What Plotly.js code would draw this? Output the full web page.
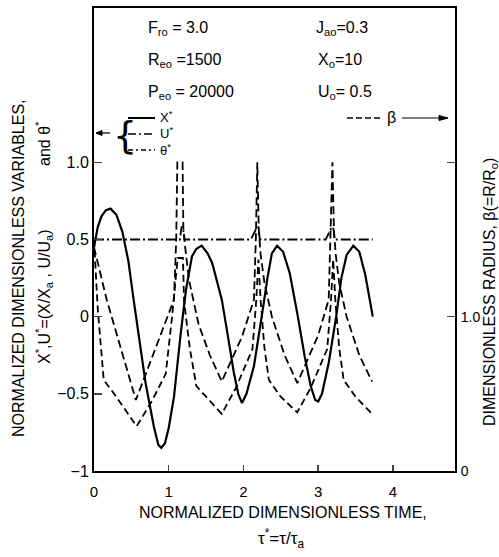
<!DOCTYPE html>
<html><head><meta charset="utf-8">
<script src="https://cdn.plot.ly/plotly-3.0.1.min.js"></script>
<style>body{margin:0;background:#fff}#c{width:499px;height:557px}</style>
</head><body><div id="c"></div>
<script>
// X* (solid)
const tX = [0,0.05,0.1,0.16,0.22,0.3,0.38,0.46,0.53,0.6,0.69,0.8,0.86,0.9,0.95,1.0,1.07,1.16,1.23,1.31,1.37,1.44,1.52,1.58,1.71,1.8,1.87,1.93,1.98,2.04,2.14,2.25,2.32,2.38,2.45,2.53,2.62,2.72,2.82,2.9,2.96,3.0,3.05,3.14,3.24,3.31,3.38,3.47,3.55,3.63,3.73];
const xStar = [0.45,0.58,0.65,0.69,0.70,0.66,0.55,0.36,0.11,-0.13,-0.43,-0.71,-0.83,-0.85,-0.82,-0.72,-0.52,-0.11,0.17,0.39,0.44,0.46,0.41,0.35,0.11,-0.15,-0.36,-0.50,-0.56,-0.50,-0.32,0.02,0.25,0.41,0.46,0.42,0.28,0.02,-0.26,-0.45,-0.54,-0.55,-0.50,-0.30,0.0,0.25,0.40,0.46,0.42,0.27,0.0];
// U* (upper dashed, spikes)
const tU = [0,0.17,0.56,1.07,1.10,1.115,1.185,1.195,1.22,1.27,1.4,1.55,1.71,1.98,2.14,2.165,2.185,2.205,2.23,2.28,2.38,2.55,2.72,3.0,3.14,3.165,3.19,3.21,3.235,3.28,3.38,3.55,3.72];
const uStar = [0.45,0.11,-0.54,0.11,0.5,1.0,1.0,0.58,0.45,0.24,-0.05,-0.25,-0.42,-0.13,0.11,0.5,1.0,0.56,0.4,0.22,0.0,-0.25,-0.43,-0.12,0.11,0.5,1.0,0.56,0.4,0.22,0.0,-0.25,-0.42];
// theta* (dash-dot, near 0.5)
const tTh = [0,0.5,1.0,1.15,1.17,1.19,1.21,1.23,1.6,2.1,2.18,2.2,2.22,2.24,2.7,3.1,3.18,3.2,3.22,3.24,3.73];
const thStar = [0.5,0.5,0.5,0.5,0.58,0.58,0.5,0.5,0.5,0.5,0.58,0.58,0.5,0.5,0.5,0.5,0.58,0.58,0.5,0.5,0.5];
// beta (lower dashed, right axis: beta)
const tB = [0,0.05,0.13,0.3,0.57,0.76,0.96,1.04,1.12,1.19,1.205,1.28,1.37,1.58,1.71,1.9,2.12,2.17,2.2,2.23,2.28,2.34,2.5,2.72,2.9,3.12,3.17,3.2,3.23,3.28,3.34,3.5,3.72];
const beta = [1.5,1.05,0.59,0.48,0.29,0.44,0.63,0.98,1.38,1.38,1.1,0.8,0.55,0.44,0.37,0.54,0.79,1.1,1.37,1.1,0.8,0.59,0.48,0.38,0.54,0.79,1.1,1.37,1.1,0.8,0.59,0.48,0.37];

const xTicks = [0,1,2,3,4];
const yTicks = [-1,-0.5,0,0.5,1];
const yTickText = ['\u22121','\u22120.5','0','0.5','1.0'];
const y2Ticks = [0,1,2];
const y2TickText = ['0','1.0',''];

const F = 'Liberation Sans, Arial, sans-serif';
const traces = [
 {x:tX,y:xStar,mode:'lines',line:{color:'#000',width:2.2},name:'X*'},
 {x:tU,y:uStar,mode:'lines',line:{color:'#000',width:1.8,dash:'8px,4px'},name:'U*'},
 {x:tTh,y:thStar,mode:'lines',line:{color:'#000',width:1.8,dash:'10px,3px,2px,3px'},name:'θ*'},
 {x:tB,y:beta,mode:'lines',yaxis:'y2',line:{color:'#000',width:1.8,dash:'7px,4px'},name:'β'}
];
const L=94,R=455,T=8,B=471,W=499,H=557;
const px=(v)=>(v-L)/(R-L), py=(v)=>(B-v)/(B-T);
const ann = [];
function A(x,y,t,size,o){ann.push(Object.assign({xref:'paper',yref:'paper',x:px(x),y:py(y),text:t,showarrow:false,font:{family:F,size:size,color:'#000'},xanchor:'left',yanchor:'middle'},o||{}));}
A(146,28,'F<sub>ro</sub> = 3.0',16);
A(146,60,'R<sub>eo</sub> =1500',16);
A(146,93,'P<sub>eo</sub> = 20000',16);
A(314,28,'J<sub>ao</sub>=0.3',16);
A(316,60,'X<sub>o</sub>=10',16);
A(316,93,'U<sub>o</sub>= 0.5',16);
A(158,117,'X<sup>*</sup>',13);
A(158,133,'U<sup>*</sup>',13);
A(158,150,'θ<sup>*</sup>',13);
ann.push({xref:'paper',yref:'paper',x:px(111),y:py(135),text:'{',showarrow:false,xanchor:'left',yanchor:'middle',font:{family:'DejaVu Sans, sans-serif',size:38,color:'#000'}});
A(385,118,'β',16);
A(18,268,'NORMALIZED DIMENSIONLESS VARIABLES,',16,{textangle:-90,xanchor:'center'});
A(44,297,'X<sup>*</sup>,U<sup>*</sup>=(X/X<sub>a</sub> , U/U<sub>a</sub>)',16,{textangle:-90,xanchor:'center'});
A(43,143,'and θ<sup>*</sup>',16,{textangle:-90,xanchor:'center'});
A(490,292,'DIMENSIONLESS RADIUS, β(=R/R<sub>o</sub>)',16,{textangle:-90,xanchor:'center'});
A(283,512,'NORMALIZED DIMENSIONLESS TIME,',16,{xanchor:'center'});
A(281,538,'τ<sup>*</sup>=τ/τ<sub>a</sub>',17,{xanchor:'center'});

const shapes = [
 {type:'line',xref:'paper',yref:'paper',x0:px(128),x1:px(155),y0:py(118),y1:py(118),line:{color:'#000',width:2}},
 {type:'line',xref:'paper',yref:'paper',x0:px(128),x1:px(155),y0:py(134),y1:py(134),line:{color:'#000',width:1.6,dash:'8px,3px,2px,3px'}},
 {type:'line',xref:'paper',yref:'paper',x0:px(128),x1:px(155),y0:py(150),y1:py(150),line:{color:'#000',width:1.6,dash:'5px,3px,2px,3px'}},
 {type:'line',xref:'paper',yref:'paper',x0:px(97),x1:px(110),y0:py(133),y1:py(133),line:{color:'#000',width:1.2}},
 {type:'path',xref:'paper',yref:'paper',path:'M '+px(96)+' '+py(133)+' L '+px(102)+' '+py(130.5)+' L '+px(102)+' '+py(135.5)+' Z',fillcolor:'#000',line:{color:'#000',width:1}},
 {type:'line',xref:'paper',yref:'paper',x0:px(347),x1:px(381),y0:py(118),y1:py(118),line:{color:'#000',width:1.6,dash:'6px,3px'}},
 {type:'line',xref:'paper',yref:'paper',x0:px(402),x1:px(446),y0:py(118),y1:py(118),line:{color:'#000',width:1.2}},
 {type:'path',xref:'paper',yref:'paper',path:'M '+px(448)+' '+py(118)+' L '+px(439)+' '+py(115.5)+' L '+px(439)+' '+py(120.5)+' Z',fillcolor:'#000',line:{color:'#000',width:1}}
];

const layout = {
 width:W,height:H,margin:{l:L,r:W-R,t:T,b:H-B},
 paper_bgcolor:'#fff',plot_bgcolor:'#fff',showlegend:false,
 font:{family:F,size:14,color:'#000'},
 xaxis:{range:[0,4.83],tickvals:xTicks,ticktext:xTicks.map(String),ticks:'inside',ticklen:6,tickwidth:1.5,ticklabelstandoff:6,showline:true,linewidth:2,linecolor:'#000',mirror:true,showgrid:false,zeroline:false,tickfont:{family:F,size:15}},
 yaxis:{range:[-1,2],tickvals:yTicks,ticktext:yTickText,ticks:'inside',ticklen:8,tickwidth:1.5,showline:true,linewidth:2,linecolor:'#000',showgrid:false,zeroline:false,tickfont:{family:F,size:16}},
 yaxis2:{range:[0,3],overlaying:'y',side:'right',tickvals:y2Ticks,ticktext:y2TickText,ticks:'inside',ticklen:8,tickwidth:1.5,ticklabelstandoff:1,showline:true,linewidth:2,linecolor:'#000',showgrid:false,zeroline:false,tickfont:{family:F,size:14}},
 annotations:ann,shapes:shapes
};
Plotly.newPlot('c',traces,layout,{displayModeBar:false,staticPlot:true});
</script></body></html>
